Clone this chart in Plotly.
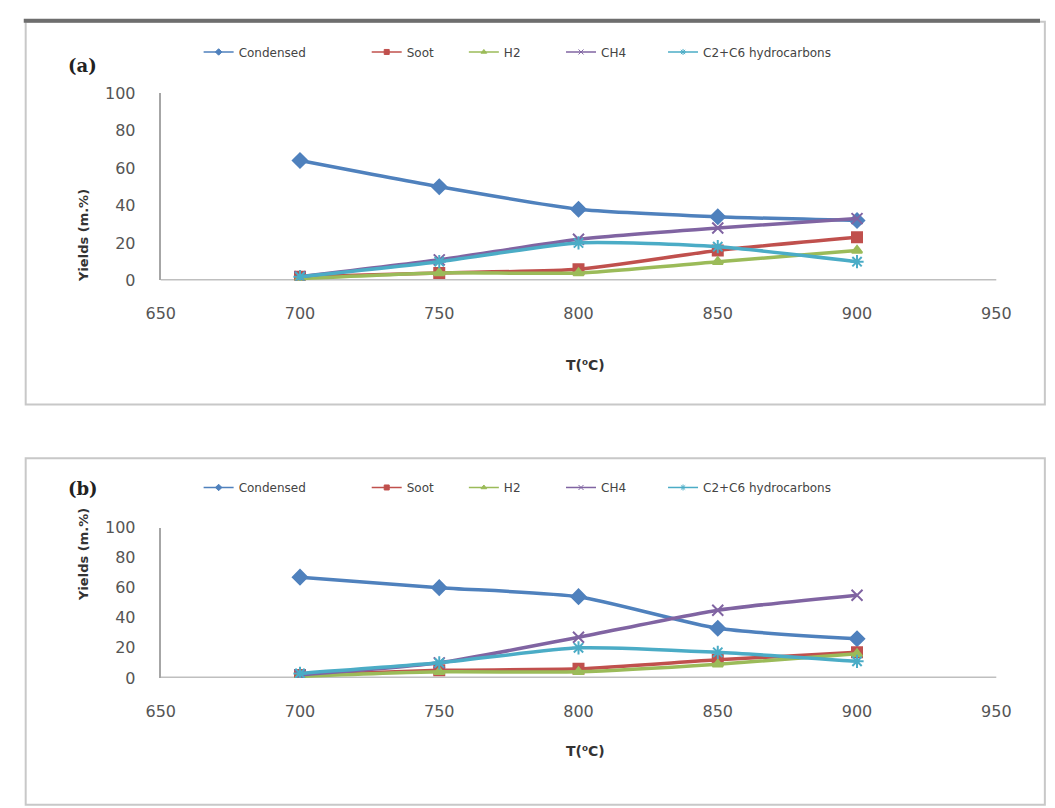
import plotly.graph_objects as go

temps = [700, 750, 800, 850, 900]
series_names = ["Condensed", "Soot", "H2", "CH4", "C2+C6 hydrocarbons"]

# Panel (a)
a_condensed = [64, 50, 38, 34, 32]
a_soot = [2, 4, 6, 16, 23]
a_h2 = [1, 4, 4, 10, 16]
a_ch4 = [2, 11, 22, 28, 33]
a_c2c6 = [2, 10, 20, 18, 10]

# Panel (b)
b_condensed = [67, 60, 54, 33, 26]
b_soot = [2, 5, 6, 12, 17]
b_h2 = [1, 4, 4, 9, 16]
b_ch4 = [2, 10, 27, 45, 55]
b_c2c6 = [3, 10, 20, 17, 11]

x_ticks = [650, 700, 750, 800, 850, 900, 950]
y_ticks = [0, 20, 40, 60, 80, 100]

colors = ["#4F81BD", "#C0504D", "#9BBB59", "#8064A2", "#4BACC6"]
symbols = ["diamond", "square", "triangle-up", "x-thin-open", "asterisk-open"]
msizes = [11, 10, 9, 11, 11]
legend_left_px = [197, 370, 470, 570, 675]

W, H = 1055, 808


def px_x(p):
    return p / W


def px_y(p):
    return 1 - p / H


fig = go.Figure()

panels = [
    ([a_condensed, a_soot, a_h2, a_ch4, a_c2c6], "x", "y", 44, 0),
    ([b_condensed, b_soot, b_h2, b_ch4, b_c2c6], "x2", "y2", 490, 5),
]
legend_layouts = {}
for vals, xa, ya, leg_y, leg_off in panels:
    for i, name in enumerate(series_names):
        fig.add_trace(go.Scatter(
            x=temps, y=vals[i], name=name, mode="lines+markers",
            xaxis=xa, yaxis=ya, showlegend=False,
            line=dict(color=colors[i], width=3.5, shape="spline", smoothing=0.6),
            marker=dict(symbol=symbols[i], size=msizes[i], color=colors[i],
                        line=dict(color=colors[i], width=2)),
        ))
        # legend-only entry (small marker, thin line like the original legend)
        lg_name = "legend" if (leg_off + i) == 0 else "legend%d" % (leg_off + i + 1)
        fig.add_trace(go.Scatter(
            x=[None], y=[None], name=name, mode="lines+markers",
            xaxis=xa, yaxis=ya, legend=lg_name, showlegend=True,
            line=dict(color=colors[i], width=1.5),
            marker=dict(symbol=symbols[i], size=5, color=colors[i],
                        line=dict(color=colors[i], width=1)),
        ))
        legend_layouts[lg_name] = dict(
            orientation="h", x=px_x(legend_left_px[i] - 8), y=px_y(leg_y),
            xanchor="left", yanchor="middle",
            font=dict(family="DejaVu Sans", size=12, color="#444444"),
            bgcolor="rgba(0,0,0,0)", itemwidth=30)

xdom = [px_x(150), px_x(1010)]
tickfont = dict(family="DejaVu Sans", size=16, color="#555555")

fig.update_layout(
    width=W, height=H,
    margin=dict(l=0, r=0, t=0, b=0),
    paper_bgcolor="white", plot_bgcolor="white",
    xaxis=dict(domain=xdom, range=[650, 950], tickvals=x_ticks, anchor="y",
               showgrid=False, zeroline=False, showline=False, ticks="",
               tickfont=tickfont, ticklabelstandoff=22),
    yaxis=dict(domain=[px_y(278), px_y(86)], range=[0, 100], tickvals=y_ticks,
               anchor="x", showgrid=False, zeroline=False, showline=True,
               linecolor="#A6A6A6", linewidth=2, ticks="",
               tickfont=tickfont, ticklabelstandoff=20),
    xaxis2=dict(domain=xdom, range=[650, 950], tickvals=x_ticks, anchor="y2",
                showgrid=False, zeroline=False, showline=False, ticks="",
                tickfont=tickfont, ticklabelstandoff=22),
    yaxis2=dict(domain=[px_y(685), px_y(531)], range=[0, 100], tickvals=y_ticks,
                anchor="x2", showgrid=False, zeroline=False, showline=True,
                linecolor="#A6A6A6", linewidth=2, ticks="",
                tickfont=tickfont, ticklabelstandoff=20),
    showlegend=True,
    **legend_layouts,
)

# x-axis baselines at y=0 (grey)
for xa, ya in [("x", "y"), ("x2", "y2")]:
    fig.add_shape(type="line", xref=xa + " domain", yref=ya, x0=0, x1=1, y0=0, y1=0,
                  line=dict(color="#BFBFBF", width=3), layer="below")

# Panel frames
fig.add_shape(type="rect", xref="paper", yref="paper",
              x0=px_x(11), x1=px_x(1060), y0=px_y(405), y1=px_y(13),
              line=dict(color="#C8C8C8", width=2), layer="below")
fig.add_shape(type="line", xref="paper", yref="paper",
              x0=px_x(9), x1=px_x(1055), y0=px_y(12), y1=px_y(12),
              line=dict(color="#6E6E6E", width=4))
fig.add_shape(type="rect", xref="paper", yref="paper",
              x0=px_x(11), x1=px_x(1060), y0=px_y(815), y1=px_y(460),
              line=dict(color="#C8C8C8", width=2), layer="below")

ann = []
for label, ypx in [("(a)", 45), ("(b)", 491)]:
    ann.append(dict(text="<b>" + label + "</b>", x=px_x(52), y=px_y(ypx), xref="paper", yref="paper",
                    showarrow=False, font=dict(family="DejaVu Serif", size=18, color="#222222")))
for ypx in [365, 770]:
    ann.append(dict(text="<b>T(⁰C)</b>", x=px_x(587), y=px_y(ypx), xref="paper", yref="paper",
                    showarrow=False, font=dict(family="DejaVu Sans", size=14, color="#333333")))
for ypx in [182, 608]:
    ann.append(dict(text="<b>Yields (m.%)</b>", x=px_x(60), y=px_y(ypx), xref="paper", yref="paper",
                    showarrow=False, textangle=-90,
                    font=dict(family="DejaVu Sans", size=13, color="#333333")))
fig.update_layout(annotations=ann)

fig.write_html(
    "out.html",
    config={"displayModeBar": False},
    post_script="document.body.style.margin='0';document.body.style.overflow='hidden';",
)
